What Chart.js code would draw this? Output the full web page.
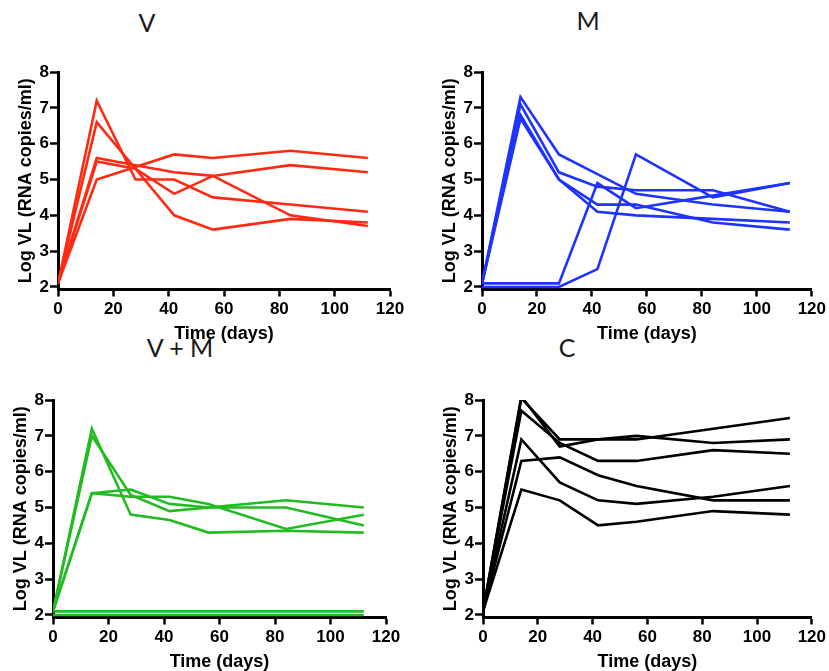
<!DOCTYPE html>
<html>
<head>
<meta charset="utf-8">
<script src="https://cdn.jsdelivr.net/npm/chart.js@4.4.1/dist/chart.umd.min.js"></script>
<style>
  body { margin: 0; background: #fff; }
  #page { position: relative; width: 829px; height: 671px; overflow: hidden; background: #fff; }
  canvas { position: absolute; }
  .ttl { position: absolute; font-family: Lato, "Open Sans", sans-serif; font-size: 25px; color: #1a1a1a;
         transform: translate(-50%, -50%); white-space: nowrap; }
</style>
</head>
<body>
<div id="page">
  <div class="ttl" style="left:147px; top:22px">V</div>
  <div class="ttl" style="left:588px; top:20px">M</div>
  <div class="ttl" style="left:180px; top:347px">V + M</div>
  <div class="ttl" style="left:567px; top:347px">C</div>
  <canvas id="chartV" width="410" height="320" style="left:0; top:40px"></canvas>
  <canvas id="chartM" width="419" height="320" style="left:410px; top:40px"></canvas>
  <canvas id="chartVM" width="410" height="311" style="left:0; top:360px"></canvas>
  <canvas id="chartC" width="419" height="311" style="left:410px; top:360px"></canvas>
</div>
<script>
// sampling days
const days = [0, 14, 28, 42, 56, 84, 112];
const xTicks = [0, 20, 40, 60, 80, 100, 120];
const yTicks = [2, 3, 4, 5, 6, 7, 8];

// V group (log VL per animal)
const vA = [2.1, 5.0, 5.35, 5.7, 5.6, 5.8, 5.6];
const vB = [2.1, 5.6, 5.4, 5.2, 5.1, 5.4, 5.2];
const vC = [2.1, 7.2, 5.0, 5.0, 4.5, 4.3, 4.1];
const vD = [2.1, 6.6, 5.3, 4.0, 3.6, 3.9, 3.8];
const vE = [2.1, 5.5, 5.3, 4.6, 5.1, 4.0, 3.7];

// M group
const mA = [2.1, 7.3, 5.7, 5.15, 4.6, 4.3, 4.1];
const mB = [2.1, 7.1, 5.2, 4.8, 4.7, 4.7, 4.1];
const mC = [2.1, 6.8, 5.0, 4.3, 4.3, 3.8, 3.6];
const mD = [2.1, 6.7, 5.0, 4.1, 4.0, 3.9, 3.8];
const mE = [2.1, 2.1, 2.1, 4.9, 4.2, 4.55, 4.9];
const mF = [2.0, 2.0, 2.0, 2.5, 5.7, 4.5, 4.9];

// V + M group
const vmA = [2.1, 7.2, 4.8, 4.65, 4.3, 4.35, 4.3];
const vmB = [2.1, 7.0, 5.35, 4.9, 5.0, 5.2, 5.0];
const vmC = [2.1, 5.4, 5.5, 5.1, 5.0, 5.0, 4.5];
const vmD = [2.1, 5.4, 5.3, 5.3, 5.1, 4.4, 4.8];
const vmE = [2.1, 2.1, 2.1, 2.1, 2.1, 2.1, 2.1];
const vmF = [2.0, 2.0, 2.0, 2.0, 2.0, 2.0, 2.0];

// C group
const cA = [2.1, 8.1, 6.7, 6.9, 6.9, 7.2, 7.5];
const cB = [2.1, 8.05, 6.9, 6.9, 7.0, 6.8, 6.9];
const cC = [2.1, 7.7, 6.8, 6.3, 6.3, 6.6, 6.5];
const cD = [2.1, 6.3, 6.4, 5.9, 5.6, 5.2, 5.2];
const cE = [2.1, 6.9, 5.7, 5.2, 5.1, 5.3, 5.6];
const cF = [2.1, 5.5, 5.2, 4.5, 4.6, 4.9, 4.8];

const FONT = "'Liberation Sans', Arial, sans-serif";
const Y_W = 47;   // fixed y-axis box width
const X_H = 58;   // fixed x-axis box height

function makePanel(id, box, area, series, color) {
  const ctx = document.getElementById(id);
  new Chart(ctx, {
    type: "line",
    data: {
      datasets: series.map(s => ({
        data: s.map((v, i) => ({ x: days[i], y: v })),
        borderColor: color,
        borderWidth: 2.6,
        pointRadius: 0,
        tension: 0,
        fill: false
      }))
    },
    options: {
      responsive: false,
      animation: false,
      events: [],
      layout: {
        padding: {
          left: area.l - box.left - Y_W,
          right: box.left + box.w - area.r,
          top: area.t - box.top,
          bottom: box.top + box.h - area.b - X_H
        }
      },
      plugins: { legend: { display: false }, tooltip: { enabled: false } },
      scales: {
        x: {
          type: "linear",
          min: 0,
          max: 120,
          afterBuildTicks: a => { a.ticks = xTicks.map(v => ({ value: v })); },
          afterFit: s => { s.height = X_H; },
          border: { color: "#000", width: 3 },
          grid: { drawOnChartArea: false, drawTicks: true, tickLength: 7, tickWidth: 2.5, tickColor: "#000" },
          ticks: { color: "#000", padding: 3, maxRotation: 0, font: { family: FONT, size: 17, weight: "bold" } },
          title: { display: true, text: "Time (days)", color: "#000", padding: { top: 0, bottom: 3 },
                   font: { family: FONT, size: 18, weight: "bold" } }
        },
        y: {
          min: 1.93,
          max: 8,
          afterBuildTicks: a => { a.ticks = yTicks.map(v => ({ value: v })); },
          afterFit: s => { s.width = Y_W; },
          border: { color: "#000", width: 3 },
          grid: { drawOnChartArea: false, drawTicks: true, tickLength: 8, tickWidth: 2.5, tickColor: "#000" },
          ticks: { color: "#000", padding: 1, font: { family: FONT, size: 17, weight: "bold" } },
          title: { display: true, text: "Log VL (RNA copies/ml)", color: "#000", padding: { top: 4, bottom: 0 },
                   font: { family: FONT, size: 18, weight: "bold" } }
        }
      }
    }
  });
}

makePanel("chartV",  { left: 0,   top: 40,  w: 410, h: 320 }, { l: 58,  r: 390, t: 72,  b: 289.5 },
          [vA, vB, vC, vD, vE], "#ff2a12");
makePanel("chartM",  { left: 410, top: 40,  w: 419, h: 320 }, { l: 482, r: 815, t: 72,  b: 289.5 },
          [mA, mB, mC, mD, mE, mF], "#1f33ff");
makePanel("chartVM", { left: 0,   top: 360, w: 410, h: 311 }, { l: 53,  r: 386, t: 400, b: 617.5 },
          [vmA, vmB, vmC, vmD, vmE, vmF], "#22bb22");
makePanel("chartC",  { left: 410, top: 360, w: 419, h: 311 }, { l: 483, r: 815, t: 400, b: 617.5 },
          [cA, cB, cC, cD, cE, cF], "#000000");
</script>
</body>
</html>
